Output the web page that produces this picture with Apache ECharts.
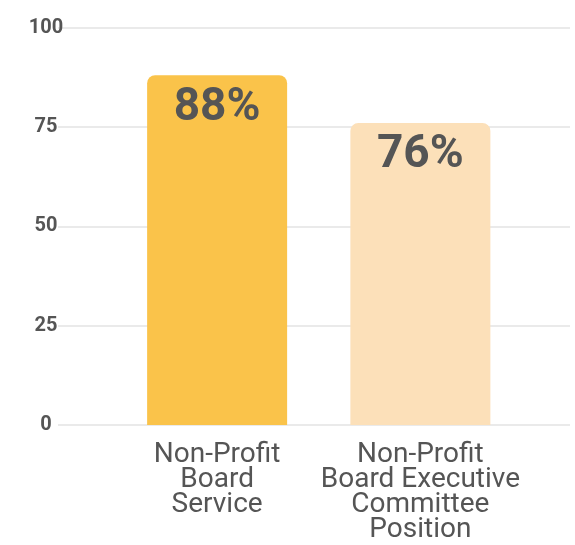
<!DOCTYPE html>
<html>
<head>
<meta charset="utf-8">
<script src="https://cdn.jsdelivr.net/npm/echarts@6/dist/echarts.min.js"></script>
<style>
  html, body { margin: 0; padding: 0; background: #fff; }
  #main { width: 575px; height: 545px; }
</style>
</head>
<body>
<div id="main"></div>
<script>
// data
const categories = ['Non-Profit\nBoard\nService', 'Non-Profit\nBoard Executive\nCommittee\nPosition'];
const values = [88, 76];
const barColors = ['#FAC34A', '#FCE0B9'];

const chart = echarts.init(document.getElementById('main'));

const option = {
    animation: false,
    grid: [
        // background grid: labels + gridlines across the full width
        { left: 58, right: 5, top: 27.5, bottom: 120 },
        // bars sit in a narrower band
        { left: 115.5, right: 53, top: 27.5, bottom: 120 }
    ],
    xAxis: [
        { gridIndex: 0, type: 'category', data: categories, show: false },
        {
            gridIndex: 1,
            type: 'category',
            data: categories,
            axisLine: { show: false },
            axisTick: { show: false },
            axisLabel: {
                interval: 0,
                color: '#555',
                fontFamily: 'Roboto',
                fontSize: 28,
                lineHeight: 25,
                margin: 17,
                align: 'center'
            }
        }
    ],
    yAxis: [
        {
            gridIndex: 0,
            type: 'value',
            min: 0,
            max: 100,
            interval: 25,
            axisLine: { show: false },
            axisTick: { show: false },
            splitLine: { lineStyle: { color: '#e3e3e3', width: 1.5 } },
            axisLabel: {
                color: '#555',
                fontFamily: 'Roboto',
                fontWeight: 'bold',
                fontSize: 20,
                align: 'center',
                margin: 12
            }
        },
        {
            gridIndex: 1,
            type: 'value',
            min: 0,
            max: 100,
            interval: 25,
            show: false
        }
    ],
    series: [{
        type: 'bar',
        xAxisIndex: 1,
        yAxisIndex: 1,
        barWidth: 140,
        data: values.map((v, i) => ({
            value: v,
            itemStyle: { color: barColors[i], borderRadius: [8, 8, 0, 0] }
        })),
        label: {
            show: true,
            position: 'insideTop',
            distance: 10,
            formatter: '{c}%',
            color: '#555',
            fontFamily: 'Roboto',
            fontWeight: 'bold',
            fontSize: 46
        }
    }]
};

chart.setOption(option);
</script>
</body>
</html>
